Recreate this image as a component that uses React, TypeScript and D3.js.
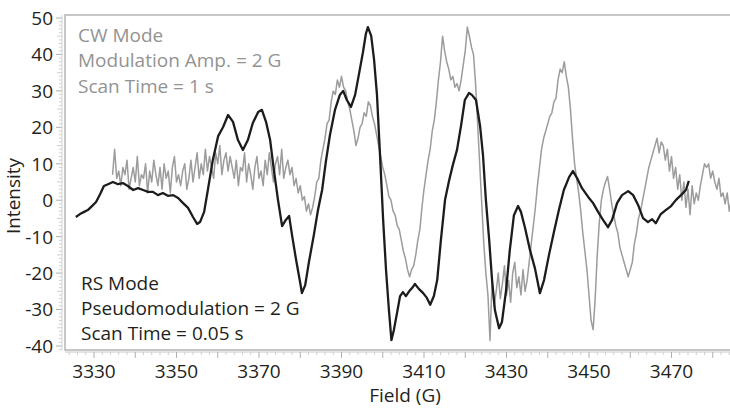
import React from 'react';
import * as d3 from 'd3';

const W = 730;
const H = 408;

// RS mode trace: field (G) and intensity
const rsField = [
  3325.6, 3326.6, 3327.6, 3328.5, 3329.5, 3330.5, 3331.5, 3332.4, 3333.4, 3334.6,
  3335.8, 3337.0, 3338.2, 3339.5, 3340.7, 3341.9, 3343.1, 3344.3, 3345.5, 3346.7,
  3347.9, 3349.2, 3350.4, 3351.6, 3352.8, 3354.0, 3355.0, 3355.7, 3356.7, 3357.6,
  3358.8, 3360.1, 3361.3, 3362.5, 3363.7, 3364.9, 3366.1, 3367.3, 3368.5, 3369.8,
  3370.7, 3371.7, 3372.7, 3373.6, 3374.6, 3375.6, 3376.5, 3377.3, 3378.0, 3379.0,
  3380.0, 3380.4, 3381.2, 3382.1, 3383.3, 3384.3, 3385.3, 3386.2, 3387.2, 3388.4,
  3389.6, 3390.4, 3391.3, 3392.3, 3393.3, 3394.2, 3395.2, 3395.9, 3396.4, 3397.2,
  3397.9, 3398.6, 3399.4, 3400.1, 3400.8, 3401.5, 3402.1, 3402.7, 3403.5, 3404.2,
  3404.9, 3405.6, 3406.4, 3407.1, 3407.8, 3408.8, 3409.8, 3410.7, 3411.5, 3412.4,
  3413.2, 3414.1, 3415.1, 3416.1, 3417.0, 3418.0, 3419.0, 3419.9, 3420.9, 3421.6,
  3422.6, 3423.6, 3424.3, 3425.0, 3425.8, 3426.5, 3427.2, 3428.2, 3428.9, 3429.9,
  3430.8, 3431.8, 3432.8, 3433.5, 3434.5, 3435.7, 3436.9, 3438.1, 3439.1, 3440.3,
  3441.5, 3442.7, 3443.9, 3445.2, 3446.1, 3447.1, 3448.3, 3449.8, 3451.0, 3452.2,
  3453.4, 3454.6, 3455.6, 3456.8, 3458.0, 3459.5, 3460.7, 3461.9, 3463.1, 3464.3,
  3465.3, 3466.2, 3467.4, 3468.6, 3469.9, 3471.1, 3472.3, 3473.5, 3474.2,
];
const rsIntensity = [
  -4.6, -3.8, -3.2, -2.7, -1.6, -0.5, 1.7, 3.9, 4.4, 5.0,
  4.4, 4.7, 3.9, 2.8, 3.3, 2.8, 2.3, 2.3, 1.4, 2.0,
  1.2, 1.4, 0.6, -0.8, -2.1, -4.6, -6.5, -6.0, -3.2, 2.8,
  11.0, 17.6, 20.1, 23.4, 21.5, 16.5, 13.8, 16.5, 21.2, 24.2,
  24.8, 21.5, 16.5, 8.3, 0.1, -7.1, -5.4, -4.3, -9.5, -16.4,
  -22.7, -25.5, -23.3, -17.0, -9.5, -2.7, 2.8, 10.5, 17.9, 24.7,
  28.9, 30.0, 27.5, 25.6, 28.9, 34.4, 40.6, 45.6, 47.5, 45.1,
  38.5, 28.9, 11.0, -5.5, -19.2, -30.2, -38.4, -35.6, -30.7, -26.3,
  -25.2, -26.3, -25.0, -24.1, -23.0, -24.4, -25.5, -26.8, -28.7, -26.3,
  -21.9, -10.9, 0.1, 5.5, 9.7, 13.8, 20.6, 27.5, 29.4, 28.9,
  27.5, 20.3, 12.4, 0.1, -10.9, -21.9, -30.2, -35.1, -33.4, -24.7,
  -13.7, -4.1, -1.6, -3.2, -7.6, -13.7, -18.7, -25.5, -21.9, -15.0,
  -8.7, -2.7, 2.8, 6.4, 8.0, 6.1, 3.3, 0.9, -0.8, -3.2,
  -5.4, -7.4, -5.4, -0.8, 1.4, 2.5, 1.4, -1.3, -4.9, -6.0,
  -5.2, -6.3, -3.8, -2.7, -1.6, 0.1, 1.4, 2.8, 5.3,
];

// CW mode trace, sampled every 0.5 G from 3334.5 G
const cwFieldStart = 3334.5;
const cwFieldStep = 0.5;
const cwIntensity = [
  7, 14, 6, 8, 4, 9, 7, 11, 3, 6,
  9, 5, 12, 4, 7, 6, 10, 2, 8, 5,
  11, 7, 4, 9, 3, 10, 6, 8, 2, 9,
  12, 5, 7, 4, 8, 10, 3, 6, 11, 5,
  9, 13, 6,
  10, 7, 14, 8, 12, 9, 6, 13, 10, 15, 7, 11, 13, 8, 12, 9,
  6, 11, 4, 9, 8, 13, 5, 10, 7, 3, 9, 12, 6, 8, 4, 11, 7, 13, 9, 5, 10, 12, 7, 14, 6, 9, 11, 7,
  9, 4, 6, 2, 4, 0, 1, -3, -1, -4, -2,
  1, 5, 6, 11, 14, 17, 21, 22, 27, 30, 29, 33, 31, 34, 31, 30, 27, 25, 22, 19,
  15, 17, 20, 21, 24, 23, 27, 26, 23, 21, 18, 15, 12, 9, 7, 4, 1, 0, -3, -4,
  -7, -8, -11, -14, -16, -19, -21, -19, -18, -15, -11, -8, -2, 3, 7, 11, 14, 19, 22, 27,
  33, 38, 45, 41, 38, 36, 33, 34, 31, 32, 30, 33, 37, 41, 47.5, 45, 42, 40, 32, 21,
  10, -1, -12, -20, -26, -38.5, -22, -29, -25, -20, -27, -23, -18, -26, -22, -28, -20, -17, -24, -21,
  -26, -19, -25, -22, -17, -12, -7, -2, 4, 9, 14, 17, 19, 21, 23, 24, 27, 28, 33, 36,
  35, 38, 34, 31, 25, 17, 10, 6, 2, -3, -9, -14, -19, -26, -33, -35.5, -27, -15, -6, 0,
  3, 5, 6.5, 3, -1, -4, -7, -9, -13, -15, -17, -19, -21, -19, -17, -12, -9, -5, -3, 0,
  3, 6, 9, 11, 13, 15, 17, 13, 16, 15, 11, 14, 8, 12, 6, 9, 3, 7, 0, 5,
  -2, 3, -4, 4, -1, 2, 0, 4, 7, 10, 9, 10, 6, 8, 5, 3, 6, 1, 2, -1,
  2, -3, 0, -4, -1, -3, -2, -3,
];

const xTickValues = [3330, 3350, 3370, 3390, 3410, 3430, 3450, 3470];
const yTickValues = [50, 40, 30, 20, 10, 0, -10, -20, -30, -40];

const cwNotes = ['CW Mode', 'Modulation Amp. = 2 G', 'Scan Time = 1 s'];
const rsNotes = ['RS Mode', 'Pseudomodulation = 2 G', 'Scan Time = 0.05 s'];

const FONT = "'Open Sans', 'DejaVu Sans', sans-serif";

export default function App() {
  const x = d3.scaleLinear().domain([3330, 3470]).range([94, 671.5]);
  const y = d3.scaleLinear().domain([50, -40]).range([18, 346]);

  const frameLeft = 65;
  const frameTop = 15;
  const frameBottom = 350;
  const axisX = 62;
  const axisY = 352;

  const line = d3
    .line<[number, number]>()
    .x((d) => x(d[0]))
    .y((d) => y(d[1]))
    .curve(d3.curveLinear);

  const cwPoints: [number, number][] = cwIntensity.map((v, i) => [cwFieldStart + i * cwFieldStep, v]);
  const rsPoints: [number, number][] = rsIntensity.map((v, i) => [rsField[i], v]);

  const xMinor = d3.range(3324, 3490, 2).filter((g) => x(g) >= frameLeft && x(g) <= W);
  const yMinor = d3.range(-41, 51, 1).filter((v) => y(v) >= frameTop && y(v) <= frameBottom);

  return (
    <svg
      width={W}
      height={H}
      viewBox={`0 0 ${W} ${H}`}
      style={{ position: 'absolute', left: 0, top: 0, background: '#fff' }}
    >
      <rect x={0} y={0} width={W} height={H} fill="#fff" />

      {/* plot frame */}
      <rect
        x={frameLeft}
        y={frameTop}
        width={W + 20 - frameLeft}
        height={frameBottom - frameTop}
        fill="none"
        stroke="#b4b4b4"
        strokeWidth={1.5}
      />

      {/* y ruler */}
      <line x1={axisX} x2={axisX} y1={frameTop} y2={frameBottom} stroke="#d4d4d4" strokeWidth={1} />
      {yMinor.map((v) => (
        <line
          key={`ym${v}`}
          x1={v % 10 === 0 ? axisX - 6 : v % 5 === 0 ? axisX - 5 : axisX - 3}
          x2={axisX}
          y1={y(v)}
          y2={y(v)}
          stroke={v % 10 === 0 ? '#b0b0b0' : '#d0d0d0'}
          strokeWidth={1}
        />
      ))}

      {/* x ruler */}
      <line x1={frameLeft} x2={W} y1={axisY} y2={axisY} stroke="#c8c8c8" strokeWidth={1} />
      {xMinor.map((g) => (
        <line
          key={`xm${g}`}
          x1={x(g)}
          x2={x(g)}
          y1={axisY}
          y2={g % 10 === 0 ? axisY + 6 : axisY + 3}
          stroke={g % 10 === 0 ? '#b0b0b0' : '#cfcfcf'}
          strokeWidth={1}
        />
      ))}

      {/* tick labels */}
      {yTickValues.map((v) => (
        <text
          key={`yt${v}`}
          x={53}
          y={y(v)}
          dy="0.36em"
          textAnchor="end"
          fontFamily={FONT}
          fontSize={19}
          fill="#231f20"
        >
          {v}
        </text>
      ))}
      {xTickValues.map((g) => (
        <text
          key={`xt${g}`}
          x={x(g)}
          y={378}
          textAnchor="middle"
          fontFamily={FONT}
          fontSize={19}
          fill="#231f20"
        >
          {g}
        </text>
      ))}

      {/* axis titles */}
      <text x={405} y={402} textAnchor="middle" fontFamily={FONT} fontSize={19} fill="#231f20">
        Field (G)
      </text>
      <text
        transform="translate(20,196) rotate(-90)"
        textAnchor="middle"
        fontFamily={FONT}
        fontSize={19}
        fill="#231f20"
      >
        Intensity
      </text>

      {/* traces */}
      <path d={line(cwPoints) ?? ''} fill="none" stroke="#9c9c9c" strokeWidth={1.5} strokeLinejoin="round" />
      <path d={line(rsPoints) ?? ''} fill="none" stroke="#1c1c1c" strokeWidth={2.3} strokeLinejoin="round" />

      {/* acquisition notes */}
      {cwNotes.map((t, i) => (
        <text key={`cw${i}`} x={78} y={42 + i * 25.3} fontFamily={FONT} fontSize={19} fill="#939393">
          {t}
        </text>
      ))}
      {rsNotes.map((t, i) => (
        <text key={`rs${i}`} x={81} y={290 + i * 25} fontFamily={FONT} fontSize={19} fill="#231f20">
          {t}
        </text>
      ))}
    </svg>
  );
}
